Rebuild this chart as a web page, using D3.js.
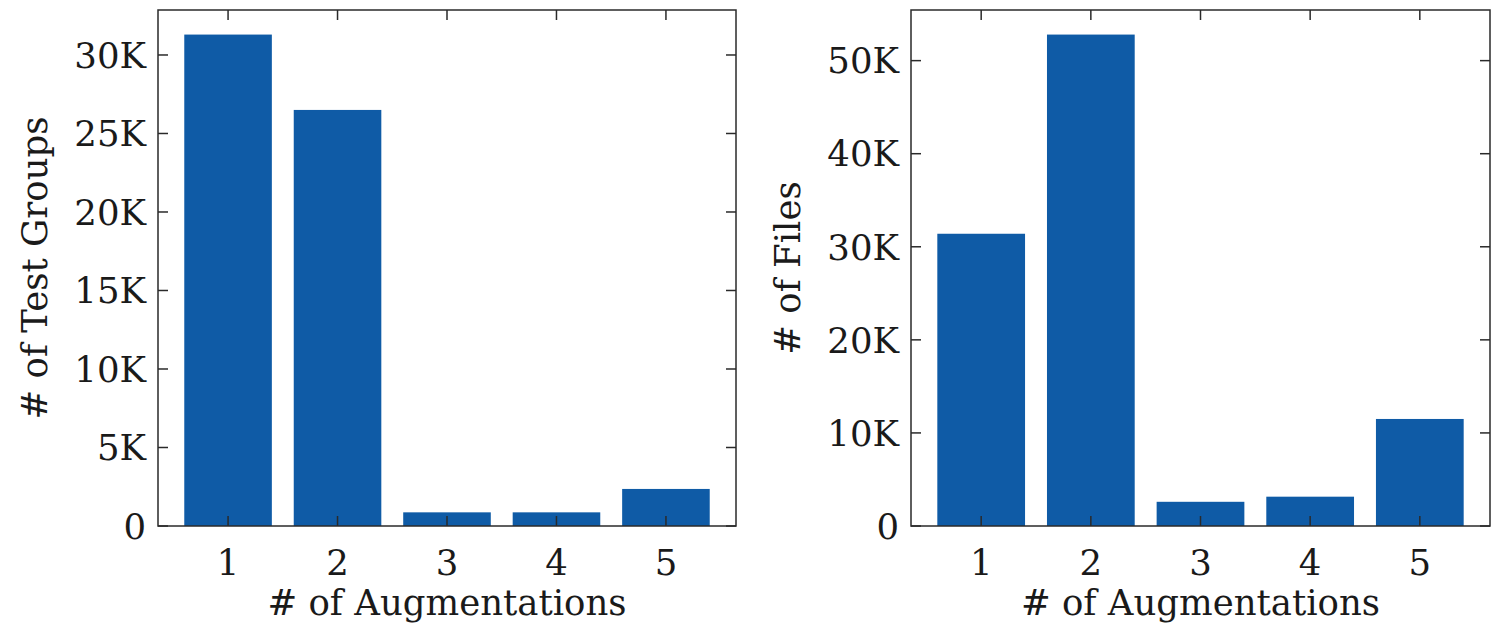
<!DOCTYPE html>
<html><head><meta charset="utf-8">
<script src="https://cdn.jsdelivr.net/npm/d3@7"></script>
<style>
html,body{margin:0;padding:0;background:#fff;}
text{font-family:"DejaVu Serif",serif;fill:#1a1a1a;}
</style></head>
<body><svg id="c" width="1501" height="625"></svg>
<script>
const categories = [1, 2, 3, 4, 5];
const testGroups = [31300, 26500, 870, 870, 2360];
const files = [31400, 52800, 2600, 3150, 11500];
const groupTicks = [0, 5000, 10000, 15000, 20000, 25000, 30000];
const fileTicks = [0, 10000, 20000, 30000, 40000, 50000];

const svg = d3.select("#c");
const fmt = d => d === 0 ? "0" : (d / 1000) + "K";
const FS = 35.5;

function panel(box, values, ticks, ylabel, ylabelX) {
  const g = svg.append("g");
  const x = d3.scaleLinear().domain([0.36, 5.64]).range([box.l, box.r]);
  const y = d3.scaleLinear().domain([0, d3.max(values) * 1.05]).range([box.b, box.t]);
  const bw = x(0.8) - x(0);
  g.selectAll("rect.bar").data(values).join("rect")
    .attr("x", (d, i) => x(categories[i]) - bw / 2)
    .attr("y", d => y(d))
    .attr("width", bw)
    .attr("height", d => y(0) - y(d))
    .attr("fill", "#0f5ba6");
  const tl = 10;
  const stroke = "#2a2a2a";
  g.selectAll("line.xb").data(categories).join("line")
    .attr("x1", d => x(d)).attr("x2", d => x(d)).attr("y1", box.b).attr("y2", box.b - tl)
    .attr("stroke", stroke).attr("stroke-width", 1.5);
  g.selectAll("line.xt").data(categories).join("line")
    .attr("x1", d => x(d)).attr("x2", d => x(d)).attr("y1", box.t).attr("y2", box.t + tl)
    .attr("stroke", stroke).attr("stroke-width", 1.5);
  g.selectAll("line.yl").data(ticks).join("line")
    .attr("x1", box.l).attr("x2", box.l + tl).attr("y1", d => y(d)).attr("y2", d => y(d))
    .attr("stroke", stroke).attr("stroke-width", 1.5);
  g.selectAll("line.yr").data(ticks).join("line")
    .attr("x1", box.r).attr("x2", box.r - tl).attr("y1", d => y(d)).attr("y2", d => y(d))
    .attr("stroke", stroke).attr("stroke-width", 1.5);
  g.append("rect").attr("x", box.l).attr("y", box.t).attr("width", box.r - box.l).attr("height", box.b - box.t)
    .attr("fill", "none").attr("stroke", stroke).attr("stroke-width", 1.5);
  g.selectAll("text.xl").data(categories).join("text")
    .attr("x", d => x(d)).attr("y", 575).attr("text-anchor", "middle")
    .attr("font-size", FS).text(d => d);
  g.selectAll("text.yl").data(ticks).join("text")
    .attr("x", box.l - 12).attr("y", d => y(d)).attr("dy", "0.36em").attr("text-anchor", "end")
    .attr("font-size", FS).text(fmt);
  g.append("text").attr("x", (box.l + box.r) / 2).attr("y", 615).attr("text-anchor", "middle")
    .attr("font-size", FS).text("# of Augmentations");
  g.append("text").attr("transform", `translate(${ylabelX},${(box.t + box.b) / 2}) rotate(-90)`)
    .attr("text-anchor", "middle").attr("font-size", FS).text(ylabel);
}

panel({l: 158, r: 736, t: 10, b: 526}, testGroups, groupTicks, "# of Test Groups", 47);
panel({l: 911, r: 1490, t: 10, b: 526}, files, fileTicks, "# of Files", 800);
</script></body></html>
